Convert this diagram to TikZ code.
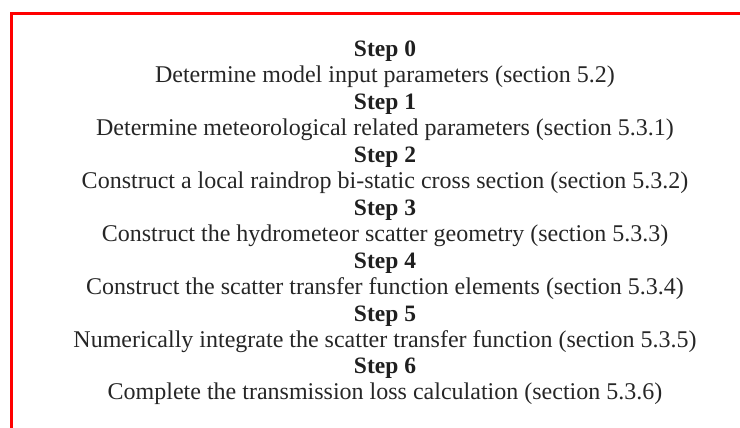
\documentclass[tikz,border=0pt]{standalone}
\usepackage{fontspec}
\setmainfont{Liberation Serif}
\usepackage{xcolor}
\usetikzlibrary{positioning}
\tikzset{>=latex}
\tikzstyle{steptitle} = [anchor=base, inner sep=0pt, font=\fontsize{23.5}{28}\selectfont\bfseries, text=black!88]
\tikzstyle{stepdesc} = [anchor=base, inner sep=0pt, font=\fontsize{24}{28}\selectfont, text=black!85]
\tikzstyle{frame} = [line width=3.5pt, draw=red]

\begin{document}
\begin{tikzpicture}[x=1pt, y=-1pt]
            \useasboundingbox (0,0) rectangle (740,428);
            % red frame, cut off at the right and bottom
            \draw[frame] (11.5,440) |- (750,13.5);

            % the steps
            \foreach \i/\desc in {0/Determine model input parameters (section 5.2),
                                  1/Determine meteorological related parameters (section 5.3.1),
                                  2/Construct a local raindrop bi-static cross section (section 5.3.2),
                                  3/Construct the hydrometeor scatter geometry (section 5.3.3),
                                  4/Construct the scatter transfer function elements (section 5.3.4),
                                  5/Numerically integrate the scatter transfer function (section 5.3.5),
                                  6/Complete the transmission loss calculation (section 5.3.6)}
            {
                \node[steptitle] (title\i) at (385,57+52.8*\i) {Step \i};
                \node[stepdesc] (desc\i) at (385,83+52.8*\i) {\desc};
            }
        \end{tikzpicture}
\end{document}
